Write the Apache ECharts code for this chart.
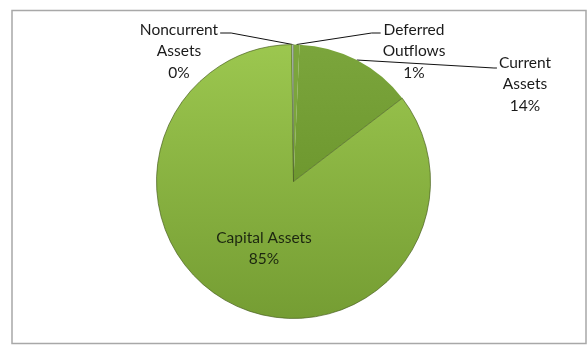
<!DOCTYPE html>
<html>
<head>
<meta charset="utf-8">
<script src="https://cdn.jsdelivr.net/npm/echarts@6/dist/echarts.min.js"></script>
<style>
  html, body { margin: 0; padding: 0; background: #ffffff; }
  #chart { width: 587px; height: 345px; }
</style>
</head>
<body>
<div id="chart"></div>
<script>
// Net position components, in percent of total (clockwise from 12 o'clock)
const categories = ['Deferred Outflows', 'Current Assets', 'Capital Assets', 'Noncurrent Assets'];
const shares = [0.7, 13.9, 85.2, 0.2];

// Label placement: centre x, top y of each text block, and which side the leader comes from
const labelSpots = {
  'Noncurrent Assets': { x: 179, y: 19, side: 'left', drop: 14, elbow: 11 },
  'Deferred Outflows': { x: 414, y: 19, side: 'right', drop: 14, elbow: 9 },
  'Current Assets':    { x: 525, y: 52, side: 'right', drop: 16, elbow: 3 },
  'Capital Assets':    { x: 264, y: 227 }
};

const grad = (top, bottom) => new echarts.graphic.LinearGradient(0, 0, 0, 1, [
  { offset: 0, color: top }, { offset: 1, color: bottom }
]);

const sliceColors = {
  'Deferred Outflows': grad('#7ba53c', '#7ba53c'),
  'Current Assets': grad('#7ba53c', '#6e982f'),
  'Capital Assets': grad('#9cc74f', '#759d33'),
  'Noncurrent Assets': '#b8c3c6'
};

// Only the large slice and the hairline slice carry an outline
const sliceBorders = {
  'Deferred Outflows': 0,
  'Current Assets': 0,
  'Capital Assets': 0.9,
  'Noncurrent Assets': 0.6
};

const chart = echarts.init(document.getElementById('chart'), null, { renderer: 'canvas' });

chart.setOption({
  animation: false,
  backgroundColor: '#ffffff',
  graphic: [{
    type: 'rect',
    shape: { x: 12, y: 10.5, width: 574, height: 333 },
    style: { fill: 'none', stroke: '#a8a8a8', lineWidth: 1.5 },
    silent: true
  }],
  series: [{
    type: 'pie',
    center: [293.5, 181.5],
    radius: 137,
    startAngle: 90,
    clockwise: true,
    avoidLabelOverlap: false,
    percentPrecision: 0,
    emphasis: { disabled: true },
    itemStyle: {
      borderColor: 'rgba(70, 92, 28, 0.75)'
    },
    label: {
      show: true,
      position: 'outside',
      fontFamily: 'Lato',
      fontSize: 15.5,
      lineHeight: 21.5,
      color: '#1a1a1a',
      align: 'center',
      formatter: p => p.name.replace(' ', '\n') + '\n' + p.percent + '%'
    },
    labelLine: {
      show: true,
      length: 10,
      length2: 10,
      lineStyle: { color: '#111111', width: 1 }
    },
    labelLayout: function (p) {
      const name = categories[p.dataIndex];
      const spot = labelSpots[name];
      if (!spot) return {};
      const out = { x: spot.x, y: spot.y, align: 'center', verticalAlign: 'top' };
      if (spot.side && p.labelLinePoints) {
        const anchor = p.labelLinePoints[0];
        const half = p.labelRect.width / 2;
        const endY = spot.y + spot.drop;
        const endX = spot.side === 'left' ? spot.x + half + 2 : spot.x - half - 2;
        const elbowX = spot.side === 'left' ? endX + spot.elbow : endX - spot.elbow;
        out.labelLinePoints = [[anchor[0], anchor[1]], [elbowX, endY], [endX, endY]];
      }
      return out;
    },
    data: categories.map((name, i) => {
      const item = {
        name: name,
        value: shares[i],
        itemStyle: { color: sliceColors[name], borderWidth: sliceBorders[name] }
      };
      if (name === 'Capital Assets') {
        item.label = {
          position: 'inside',
          color: '#1c2610',
          formatter: p => p.name + '\n' + p.percent + '%'
        };
        item.labelLine = { show: false };
      }
      return item;
    })
  }]
});
</script>
</body>
</html>
